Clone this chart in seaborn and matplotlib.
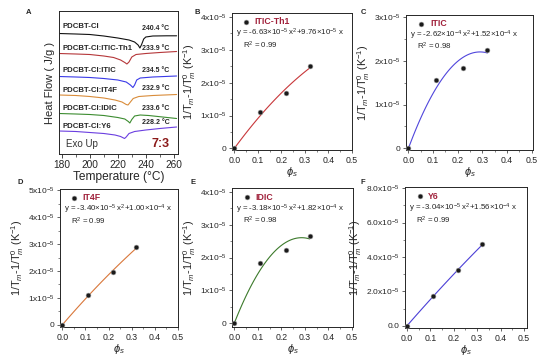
import numpy as np
import pandas as pd
import matplotlib
matplotlib.use("Agg")
import matplotlib.pyplot as plt
import seaborn as sns
from matplotlib.ticker import FixedLocator, FixedFormatter, MultipleLocator

# ---------------- DATA ----------------
# Panel A: DSC curves (temperature in degC, heat flow in arbitrary units)
dsc_names = ["PDCBT-Cl", "PDCBT-Cl:ITIC-Th1", "PDCBT-Cl:ITIC", "PDCBT-Cl:IT4F", "PDCBT-Cl:IDIC", "PDCBT-Cl:Y6"]
dsc_tm_labels = ["240.4 °C", "233.9 °C", "234.5 °C", "232.9 °C", "233.6 °C", "228.2 °C"]
dsc_T_black = [178, 190, 200, 210, 220, 228, 232, 234.5, 235.8, 237, 238.5, 240, 245, 255, 262]
dsc_H_black = [120.5, 120, 119.5, 118, 116, 114, 112, 109, 106, 109.5, 115, 117, 118, 118.2, 118.2]
dsc_T_th1 = [178, 190, 200, 210, 217, 222, 225, 226.5, 228, 230, 233, 240, 250, 262]
dsc_H_th1 = [100.5, 100, 99.5, 98, 96.5, 94, 91.5, 90, 92, 97, 99.5, 100.5, 101.5, 102.5]
dsc_T_itic = [178, 190, 200, 210, 220, 226, 229, 230.8, 232, 233.5, 236, 245, 262]
dsc_H_itic = [77.5, 77, 76.5, 75.5, 74, 72, 69, 66.5, 69, 74, 76, 77, 78]
dsc_T_it4f = [178, 190, 200, 210, 218, 223, 226, 227.3, 229, 231, 235, 245, 262]
dsc_H_it4f = [59, 58.5, 57.5, 56, 54, 52, 49.5, 49, 52, 55.5, 57.5, 58.5, 59.5]
dsc_T_idic = [178, 190, 200, 210, 220, 225, 227.5, 228.6, 230, 232, 236, 242, 252, 262]
dsc_H_idic = [40.5, 40, 39.5, 38.5, 36.5, 35, 32.5, 31, 34.5, 38, 39, 38.5, 37, 35.5]
dsc_T_y6 = [178, 190, 200, 210, 218, 222, 224.8, 226, 228, 232, 240, 250, 262]
dsc_H_y6 = [23, 22.5, 21.5, 20.5, 19, 17.5, 15.5, 17, 20.5, 22.5, 24, 25.5, 27]

# Panels B-F: melting point depression vs volume fraction
phi_s = [0.0, 0.11, 0.22, 0.32]
dT_th1 = [0.0, 1.10e-5, 1.68e-5, 2.50e-5]
dT_itic = [0.0, 1.57e-5, 1.84e-5, 2.25e-5]
dT_it4f = [0.0, 1.12e-5, 1.95e-5, 2.90e-5]
dT_idic = [0.0, 1.83e-5, 2.22e-5, 2.65e-5]
dT_y6 = [0.0, 1.73e-5, 3.22e-5, 4.75e-5]
# fitted quadratic coefficients (a x^2 + b x) as drawn
fit_th1 = [-6.63e-5, 9.76e-5]
fit_itic = [-2.62e-4, 1.52e-4]
fit_it4f = [-3.40e-5, 1.00e-4]
fit_idic = [-3.18e-4, 1.82e-4]
fit_y6 = [-3.04e-5, 1.56e-4]
eq_th1 = "y = -6.63×10$^{-5}$ x$^{2}$+9.76×10$^{-5}$ x"
eq_itic = "y = -2.62×10$^{-4}$ x$^{2}$+1.52×10$^{-4}$ x"
eq_it4f = "y = -3.40×10$^{-5}$ x$^{2}$+1.00×10$^{-4}$ x"
eq_idic = "y = -3.18×10$^{-5}$ x$^{2}$+1.82×10$^{-4}$ x"
eq_y6 = "y = -3.04×10$^{-5}$ x$^{2}$+1.56×10$^{-4}$ x"
r2_vals = ["0.99", "0.98", "0.99", "0.98", "0.99"]
acceptor_names = ["ITIC-Th1", "ITIC", "IT4F", "IDIC", "Y6"]
ytick_4 = [0, 1e-5, 2e-5, 3e-5, 4e-5]
ytick_4_labels = ["0", "1x10$^{-5}$", "2x10$^{-5}$", "3x10$^{-5}$", "4x10$^{-5}$"]
ytick_3 = [0, 1e-5, 2e-5, 3e-5]
ytick_3_labels = ["0", "1x10$^{-5}$", "2x10$^{-5}$", "3x10$^{-5}$"]
ytick_5 = [0, 1e-5, 2e-5, 3e-5, 4e-5, 5e-5]
ytick_5_labels = ["0", "1x10$^{-5}$", "2x10$^{-5}$", "3x10$^{-5}$", "4x10$^{-5}$", "5x10$^{-5}$"]
ytick_8 = [0, 2e-5, 4e-5, 6e-5, 8e-5]
ytick_8_labels = ["0.0", "2.0x10$^{-5}$", "4.0x10$^{-5}$", "6.0x10$^{-5}$", "8.0x10$^{-5}$"]
xticks_phi = [0.0, 0.1, 0.2, 0.3, 0.4, 0.5]
xticks_phi_labels = ["0.0", "0.1", "0.2", "0.3", "0.4", "0.5"]
xticks_T = [180, 200, 220, 240, 260]

# ---------------- STYLE ----------------
sns.set_theme(style="ticks")
plt.rcParams['font.family'] = ['Liberation Sans', 'DejaVu Sans']
plt.rcParams['mathtext.fontset'] = 'custom'
plt.rcParams['mathtext.rm'] = 'Liberation Sans'
plt.rcParams['mathtext.it'] = 'Liberation Sans:italic'
plt.rcParams['mathtext.bf'] = 'Liberation Sans:bold'
plt.rcParams['axes.linewidth'] = 0.7

W, H = 542, 357
fig = plt.figure(figsize=(W / 100, H / 100), dpi=100)

def ax_px(l, r, t, b):
    return fig.add_axes([l / W, (H - b) / H, (r - l) / W, (b - t) / H])

# ---------------- PANEL A ----------------
axA = ax_px(59, 178, 11, 154)
dsc_sets = [(dsc_T_black, dsc_H_black, "#111111"),
            (dsc_T_th1, dsc_H_th1, "#B5373A"),
            (dsc_T_itic, dsc_H_itic, "#3A3AE8"),
            (dsc_T_it4f, dsc_H_it4f, "#D98C3A"),
            (dsc_T_idic, dsc_H_idic, "#3C8C30"),
            (dsc_T_y6, dsc_H_y6, "#6B3FE0")]
for T, Hf, c in dsc_sets:
    sns.lineplot(x=T, y=Hf, ax=axA, color=c, lw=0.8)
axA.set_xlim(178, 263)
axA.set_ylim(0, 143)
axA.set_yticks([])
axA.xaxis.set_major_locator(FixedLocator(xticks_T))
axA.xaxis.set_minor_locator(MultipleLocator(10))
axA.tick_params(axis='x', which='major', direction='out', length=3, width=0.6, labelsize=7.3, pad=1.5)
axA.tick_params(axis='x', which='minor', direction='out', length=1.8, width=0.5)
axA.set_xlabel("Temperature (°C)", fontsize=8.6, labelpad=0.5)
axA.set_ylabel("Heat Flow ( J/g )", fontsize=8, labelpad=3)
name_y = [128, 105, 83, 64, 46, 28]
tm_y = [125, 106, 83, 65, 46, 31]
for n, ny, tl, ty in zip(dsc_names, name_y, dsc_tm_labels, tm_y):
    axA.text(180.5, ny, n, fontsize=5.6, fontweight='bold', va='center', ha='left')
    axA.text(257, ty, tl, fontsize=5, fontweight='bold', va='center', ha='right')
axA.text(183, 10, "Exo Up", fontsize=7, va='center', ha='left', color='#333333')
axA.text(257, 10, "7:3", fontsize=9, fontweight='bold', va='center', ha='right', color='#8B1A1A')

# ---------------- PANELS B-F ----------------
panels = [
    (ax_px(232, 352, 13, 150), dT_th1, fit_th1, eq_th1, "#C8373A", ytick_4, ytick_4_labels, (-0.01, 0.5), (-0.05e-5, 4.12e-5), 0.5e-5),
    (ax_px(406, 533, 15, 150), dT_itic, fit_itic, eq_itic, "#5046DC", ytick_3, ytick_3_labels, (-0.01, 0.505), (-0.04e-5, 3.05e-5), 0.5e-5),
    (ax_px(60, 178, 189, 327), dT_it4f, fit_it4f, eq_it4f, "#D9773A", ytick_5, ytick_5_labels, (-0.01, 0.5), (-0.08e-5, 5.05e-5), 0.5e-5),
    (ax_px(232, 353, 188, 327), dT_idic, fit_idic, eq_idic, "#3C7A2B", ytick_4, ytick_4_labels, (-0.01, 0.505), (-0.12e-5, 4.12e-5), 0.5e-5),
    (ax_px(405, 527, 187, 328), dT_y6, fit_y6, eq_y6, "#4B3FD6", ytick_8, ytick_8_labels, (-0.008, 0.513), (-0.12e-5, 8.06e-5), 1e-5),
]
for i, (ax, yv, fit, eq, col, yt, ytl, xl, yl, ymin) in enumerate(panels):
    xs = np.linspace(0, phi_s[-1], 60)
    ys = np.polyval([fit[0], fit[1], 0.0], xs)
    sns.lineplot(x=xs, y=ys, ax=ax, color=col, lw=0.8)
    sns.scatterplot(x=phi_s, y=yv, ax=ax, color='#1a1a1a', s=12, edgecolor='#9a9a9a', linewidth=0.4, zorder=5, clip_on=False)
    ax.set_xlim(*xl)
    ax.set_ylim(*yl)
    ax.yaxis.set_major_locator(FixedLocator(yt))
    ax.yaxis.set_major_formatter(FixedFormatter(ytl))
    ax.yaxis.set_minor_locator(MultipleLocator(ymin))
    ax.xaxis.set_major_locator(FixedLocator(xticks_phi))
    ax.xaxis.set_major_formatter(FixedFormatter(xticks_phi_labels))
    ax.xaxis.set_minor_locator(MultipleLocator(0.05))
    ax.tick_params(which='major', direction='out', length=2.5, width=0.5, labelsize=6.3, pad=1.5)
    ax.tick_params(axis='y', which='major', labelsize=6.0)
    ax.tick_params(which='minor', direction='out', length=1.4, width=0.4)
    ax.set_xlabel(r"$\phi_s$", fontsize=8, labelpad=0.5)
    ax.set_ylabel(r"1/T$_m$-1/T$^0_m$ (K$^{-1}$)", fontsize=7.8, labelpad=1.5)
    # legend-like annotation
    ax.scatter([0.12], [0.935], transform=ax.transAxes, s=12, color='#1a1a1a', edgecolor='#9a9a9a', linewidth=0.4)
    ax.text(0.19, 0.935, acceptor_names[i], transform=ax.transAxes, fontsize=6.3, fontweight='bold',
            color='#A0203A', va='center', ha='left')
    ax.text(0.03, 0.85, eq, transform=ax.transAxes, fontsize=5.7, va='center', ha='left')
    ax.text(0.09, 0.765, "R$^{2}$ = " + r2_vals[i], transform=ax.transAxes, fontsize=5.7, va='center', ha='left')

# panel letters
for lab, x, y in [("A", 29, 12), ("B", 197, 12), ("C", 363, 12), ("D", 20, 183), ("E", 193, 183), ("F", 363, 183)]:
    fig.text(x / W, 1 - y / H, lab, fontsize=5.5, fontweight='bold', ha='center', va='center')

fig.savefig("out.png", dpi=100)
